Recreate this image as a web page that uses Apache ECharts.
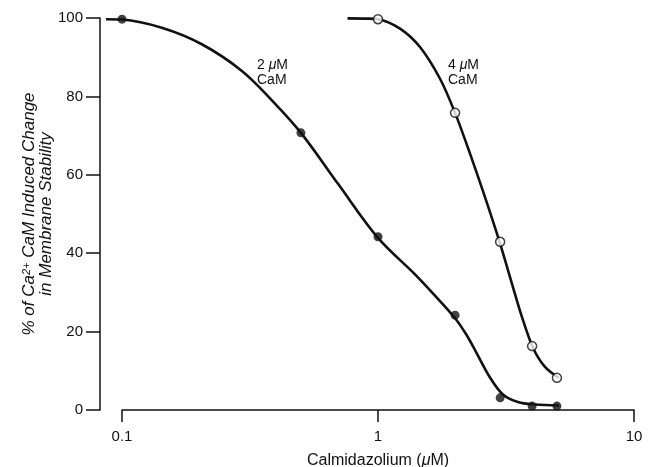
<!DOCTYPE html>
<html>
<head>
<meta charset="utf-8">
<script src="https://cdn.jsdelivr.net/npm/echarts@6/dist/echarts.min.js"></script>
<style>html,body{margin:0;padding:0;background:#fff}#c{width:657px;height:467px}</style>
</head>
<body>
<div id="c"></div>
<script>
// Measured points
const pointX2 = [0.1, 0.5, 1, 2, 3, 4, 5];
const pointY2 = [99.7, 70.7, 44.2, 24.2, 3.1, 1.0, 1.0];
const pointX4 = [1, 2, 3, 4, 5];
const pointY4 = [99.7, 75.8, 42.9, 16.3, 8.2];
// Fitted curves
const curveX2 = [0.0866, 0.1, 0.143, 0.205, 0.294, 0.385, 0.5, 0.698, 1, 1.395, 1.7, 2, 2.2, 2.393, 2.738, 3.077, 3.52, 4.1, 5.09];
const curveY2 = [99.7, 99.6, 97.5, 93.3, 86.5, 79, 70.7, 57.7, 43.9, 34.6, 28.6, 23.4, 19.5, 15.3, 8.3, 3.95, 2.04, 1.4, 1.15];
const curveX4 = [0.76, 0.9, 1, 1.219, 1.459, 1.747, 2, 2.288, 2.618, 2.997, 3.337, 3.652, 4.03, 4.49, 5.09];
const curveY4 = [99.9, 99.85, 99.7, 97.3, 92.6, 84.5, 75.8, 65.4, 54.3, 42.5, 32.2, 23.7, 15.9, 11.0, 8.16];
const xTicks = [0.1, 1, 10];
const yTicks = [0, 20, 40, 60, 80, 100];
// lowest x reached by the fitted curve (left of the axis start)
const xDataMin = curveX2[0];

const zip = (xs, ys) => xs.map((x, i) => [x, ys[i]]);
const FONT = 'Liberation Sans';
const INK = '#111';

// pixel layout of the visible axes
const AX_LEFT = 122, AX_RIGHT_PX = 634, W = 657, TOP = 18, BOTTOM = 57;
const pxPerDecade = (AX_RIGHT_PX - AX_LEFT) / Math.log10(xTicks[2] / xTicks[0]);
const dataLeft = AX_LEFT - pxPerDecade * Math.log10(xTicks[0] / xDataMin);

const chart = echarts.init(document.getElementById('c'), null, {renderer: 'canvas'});
chart.setOption({
  animation: false,
  backgroundColor: '#fff',
  grid: [
    {left: dataLeft, right: W - AX_RIGHT_PX, top: TOP, bottom: BOTTOM, containLabel: false, outerBoundsMode: 'none'},
    {left: AX_LEFT, right: W - AX_RIGHT_PX, top: TOP, bottom: BOTTOM, containLabel: false, outerBoundsMode: 'none'}
  ],
  xAxis: [
    {gridIndex: 0, type: 'log', logBase: 10, min: xDataMin, max: xTicks[2], show: false},
    {
      gridIndex: 1, type: 'log', logBase: 10, min: xTicks[0], max: xTicks[2],
      name: 'Calmidazolium ({i|μ}M)', nameLocation: 'middle', nameGap: 43, nameMoveOverlap: false,
      nameTextStyle: {fontFamily: FONT, fontSize: 16, color: INK, rich: {i: {fontFamily: FONT, fontSize: 16, fontStyle: 'italic', color: INK}}},
      axisLine: {lineStyle: {color: INK, width: 1.5}},
      axisTick: {show: true, inside: false, length: 12, lineStyle: {color: INK, width: 1.5}},
      minorTick: {show: false},
      splitLine: {show: false},
      axisLabel: {fontFamily: FONT, fontSize: 15, color: INK, margin: 19, formatter: v => String(v)}
    }
  ],
  yAxis: [
    {gridIndex: 0, type: 'value', min: yTicks[0], max: yTicks[yTicks.length - 1], show: false},
    {
      gridIndex: 1, type: 'value', min: yTicks[0], max: yTicks[yTicks.length - 1], interval: 20, offset: 22,
      name: '% of Ca{s|2+} CaM Induced Change\nin Membrane Stability',
      nameLocation: 'middle', nameGap: 45, nameMoveOverlap: false,
      nameTextStyle: {fontFamily: FONT, fontSize: 17, fontStyle: 'italic', color: INK, lineHeight: 17, align: 'center',
        rich: {s: {fontFamily: FONT, fontSize: 11, fontStyle: 'italic', color: INK, verticalAlign: 'top', lineHeight: 17}}},
      axisLine: {show: true, lineStyle: {color: INK, width: 1.5}},
      axisTick: {show: true, inside: false, length: 14, lineStyle: {color: INK, width: 1.5}},
      splitLine: {show: false},
      axisLabel: {fontFamily: FONT, fontSize: 15, color: INK, margin: 17}
    }
  ],
  series: [
    {type: 'line', xAxisIndex: 0, yAxisIndex: 0, data: zip(curveX2, curveY2), smooth: 0.35, symbol: 'none', lineStyle: {color: INK, width: 2.6}, z: 2},
    {type: 'line', xAxisIndex: 0, yAxisIndex: 0, data: zip(curveX4, curveY4), smooth: 0.3, symbol: 'none', lineStyle: {color: INK, width: 2.6}, z: 2},
    {type: 'scatter', xAxisIndex: 0, yAxisIndex: 0, data: zip(pointX2, pointY2), symbol: 'circle', symbolSize: 9, itemStyle: {color: INK}, z: 3},
    {type: 'scatter', xAxisIndex: 0, yAxisIndex: 0, data: zip(pointX4, pointY4), symbol: 'circle', symbolSize: 9, itemStyle: {color: '#fff', borderColor: INK, borderWidth: 1.5}, z: 3}
  ],
  graphic: [
    {type: 'text', left: 257, top: 58, style: {text: '2 {i|μ}M\nCaM', fontFamily: FONT, fontSize: 14, lineHeight: 15, fill: INK,
      rich: {i: {fontFamily: FONT, fontSize: 14, fontStyle: 'italic', fill: INK}}}},
    {type: 'text', left: 448, top: 58, style: {text: '4 {i|μ}M\nCaM', fontFamily: FONT, fontSize: 14, lineHeight: 15, fill: INK,
      rich: {i: {fontFamily: FONT, fontSize: 14, fontStyle: 'italic', fill: INK}}}}
  ]
});
</script>
</body>
</html>
